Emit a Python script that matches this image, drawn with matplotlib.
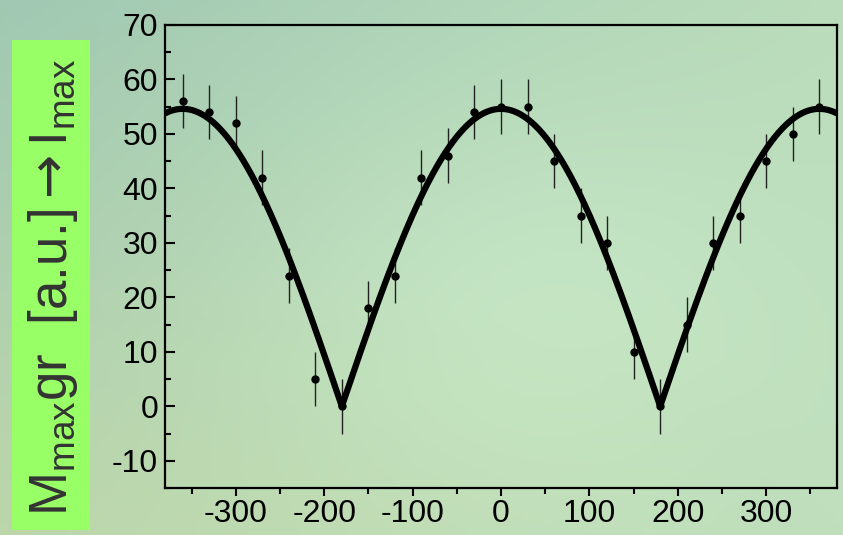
import numpy as np
import matplotlib
matplotlib.use('Agg')
import matplotlib.pyplot as plt
from matplotlib.patches import Rectangle
from matplotlib.ticker import MultipleLocator

plt.rcParams['font.family'] = ['Liberation Sans', 'DejaVu Sans']
plt.rcParams['axes.unicode_minus'] = False
plt.rcParams['mathtext.fontset'] = 'custom'
plt.rcParams['mathtext.rm'] = 'Liberation Sans'
plt.rcParams['mathtext.it'] = 'Liberation Sans:italic'
plt.rcParams['mathtext.sf'] = 'DejaVu Sans'

# angle (deg) and measured value
angle = [-360, -330, -300, -270, -240, -210, -180, -150, -120, -90, -60, -30, 0,
         30, 60, 90, 120, 150, 180, 210, 240, 270, 300, 330, 360]
value = [56, 54, 52, 42, 24, 5, 0, 18, 24, 42, 46, 54, 55,
         55, 45, 35, 30, 10, 0, 15, 30, 35, 45, 50, 55]
err = [5] * len(angle)

x = np.array(angle, dtype=float)
y = np.array(value, dtype=float)

# least squares fit of A*|cos(x/2)|
f = np.abs(np.cos(np.radians(x / 2)))
A = np.sum(y * f) / np.sum(f * f)
xs = np.linspace(-380, 380, 1521)
ys = A * np.abs(np.cos(np.radians(xs / 2)))

fig = plt.figure(figsize=(8.43, 5.35), dpi=100)

# background gradient
bg = fig.add_axes([0, 0, 1, 1], zorder=0)
gx, gy = np.meshgrid(np.linspace(0, 1, 200), np.linspace(0, 1, 130))
tl = np.array([160, 200, 178]) / 255
tr = np.array([186, 220, 186]) / 255
bl = np.array([188, 214, 170]) / 255
br = np.array([190, 222, 188]) / 255
img = (tl[None, None, :] * ((1 - gx) * (1 - gy))[..., None]
       + tr[None, None, :] * (gx * (1 - gy))[..., None]
       + bl[None, None, :] * ((1 - gx) * gy)[..., None]
       + br[None, None, :] * (gx * gy)[..., None])
glow = np.exp(-(((gx - 0.6) / 0.35) ** 2 + ((gy - 0.55) / 0.4) ** 2))
img = img + 0.05 * glow[..., None]
bg.imshow(np.clip(img, 0, 1), aspect='auto', extent=[0, 1, 0, 1], origin='upper')
bg.axis('off')

# label box
fig.patches.append(Rectangle((12 / 843, 1 - 530 / 535), 78 / 843, 490 / 535,
                             transform=fig.transFigure, facecolor='#99ff66',
                             edgecolor='none', zorder=1))
fig.text(53 / 843, 1 - 287 / 535,
         r'M$_{\mathrm{max}}$gr$\ $ [a.u.]$\mathsf{\rightarrow}$I$_{\mathrm{max}}$',
         rotation=90, ha='center', va='center', fontsize=38, color='#333333',
         zorder=2)

ax = fig.add_axes([165 / 843, 1 - 488 / 535, 672 / 843, 463 / 535], zorder=2)
ax.patch.set_alpha(0)

ax.errorbar(x, y, yerr=err, fmt='o', color='black', markersize=5,
            ecolor='#222222', elinewidth=1, capsize=0)
ax.plot(xs, ys, color='black', linewidth=4.5)

ax.set_xlim(-380, 380)
ax.set_ylim(-15, 70)
ax.xaxis.set_major_locator(MultipleLocator(100))
ax.xaxis.set_minor_locator(MultipleLocator(50))
ax.yaxis.set_major_locator(MultipleLocator(10))
ax.yaxis.set_minor_locator(MultipleLocator(5))
ax.tick_params(axis='y', which='both', direction='in', labelsize=23, width=1.5, pad=5)
ax.tick_params(axis='y', which='major', length=7)
ax.tick_params(axis='y', which='minor', length=4.5)
ax.tick_params(axis='x', which='both', direction='out', labelsize=23, width=1.5, pad=2)
ax.tick_params(axis='x', which='major', length=6)
ax.tick_params(axis='x', which='minor', length=4)
for s in ax.spines.values():
    s.set_linewidth(1.6)

fig.savefig('out.png', dpi=100)
